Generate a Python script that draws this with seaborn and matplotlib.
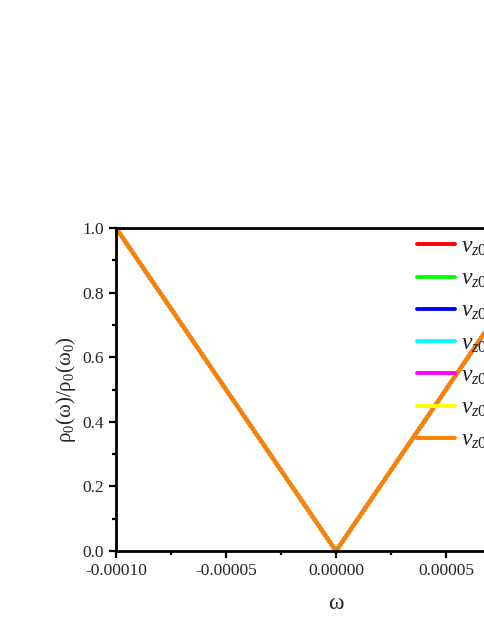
import numpy as np
import pandas as pd
import matplotlib
matplotlib.use('Agg')
import matplotlib.pyplot as plt
import seaborn as sns
from matplotlib.ticker import FormatStrFormatter, MultipleLocator

# data: every curve sits on the same V shape
omega = [-1e-4, -5e-5, 0.0, 5e-5, 1e-4]
rho_ratio = [1.0, 0.5, 0.0, 0.5, 1.0]
labels = [r'$v_{z0}/v_F=0.1$', r'$v_{z0}/v_F=0.2$', r'$v_{z0}/v_F=0.3$',
          r'$v_{z0}/v_F=0.4$', r'$v_{z0}/v_F=0.5$', r'$v_{z0}/v_F=0.6$',
          r'$v_{z0}/v_F=0.7$']
colors = ['#ff0000', '#00ff00', '#0000ff', '#00ffff', '#ff00ff', '#ffff00', '#ff8000']

rows = []
for lab in labels:
    for w, r in zip(omega, rho_ratio):
        rows.append({'omega': w, 'rho': r, 'curve': lab})
df = pd.DataFrame(rows)

sns.set_style('ticks')
plt.rcParams['font.family'] = ['Liberation Serif', 'DejaVu Serif']
plt.rcParams['mathtext.fontset'] = 'custom'
plt.rcParams['mathtext.it'] = 'Liberation Serif:italic'
plt.rcParams['mathtext.rm'] = 'Liberation Serif'

fig = plt.figure(figsize=(4.85, 6.27), dpi=100)
ax = fig.add_axes([116/485, (627-551)/627, 440/485, 323/627])

sns.lineplot(data=df, x='omega', y='rho', hue='curve', palette=colors,
             hue_order=labels, linewidth=2.8, ax=ax)

ax.set_xlim(-1e-4, 1e-4)
ax.set_ylim(0, 1.0)
ax.xaxis.set_major_locator(MultipleLocator(5e-5))
ax.xaxis.set_minor_locator(MultipleLocator(2.5e-5))
ax.yaxis.set_major_locator(MultipleLocator(0.2))
ax.yaxis.set_minor_locator(MultipleLocator(0.1))
ax.xaxis.set_major_formatter(FormatStrFormatter('%.5f'))
ax.yaxis.set_major_formatter(FormatStrFormatter('%.1f'))
ax.tick_params(which='major', direction='out', length=5, width=1.6, labelsize=12.5, color='black')
ax.tick_params(which='minor', direction='out', length=3, width=1.6, color='black')
ax.tick_params(axis='both', which='both', top=False, right=False)
for sp in ax.spines.values():
    sp.set_linewidth(2)
    sp.set_color('black')

ax.set_xlabel('ω', fontsize=17, labelpad=10)
ax.set_ylabel(r'$\mathrm{\rho_0(\omega)/\rho_0(\omega_0)}$', fontsize=15, labelpad=3)

ax.legend(loc='upper left', bbox_to_anchor=(0.652, 1.02), frameon=False,
          fontsize=17, handlelength=1.6, handletextpad=0.25, labelspacing=0.42,
          borderaxespad=0.2)

plt.savefig('out.png', dpi=100)
